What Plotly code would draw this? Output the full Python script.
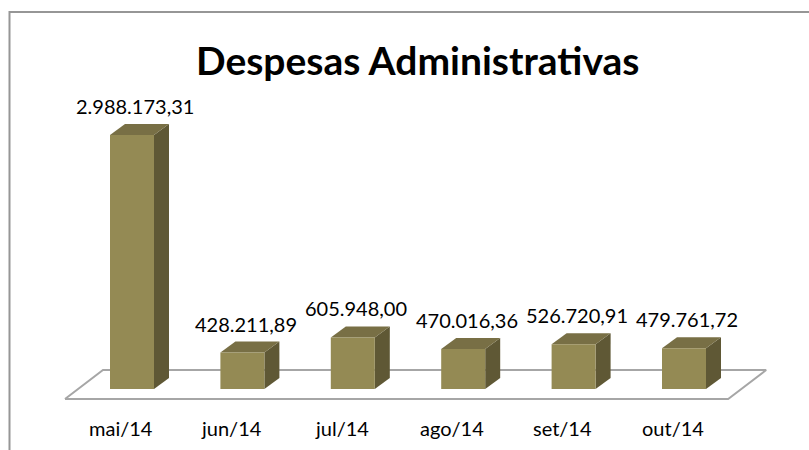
import plotly.graph_objects as go

# ---- data ----
categories = ["mai/14", "jun/14", "jul/14", "ago/14", "set/14", "out/14"]
values = [2988173.31, 428211.89, 605948.00, 470016.36, 526720.91, 479761.72]
value_labels = ["2.988.173,31", "428.211,89", "605.948,00", "470.016,36", "526.720,91", "479.761,72"]
title_text = "Despesas Administrativas"

# ---- geometry (pixel-based scale of the picture) ----
W, H = 809, 450
PX_X = 110.4               # pixels per category step
X_FIRST = 132.0            # pixel centre of first bar
UNITS_PER_PX = 2988173.31 / 254.0
ZERO_PX = 389.0            # pixel row of value 0

x0 = -X_FIRST / PX_X
x1 = x0 + W / PX_X
y0 = -(H - ZERO_PX) * UNITS_PER_PX
y1 = y0 + H * UNITS_PER_PX

HALF = 22 / PX_X           # half width of bar front face
DX = 15 / PX_X             # depth offset x
DY = 11 * UNITS_PER_PX     # depth offset y

FRONT = "#948A54"
TOP = "#786F45"
SIDE = "#5F5835"
GRID = "#A6A6A6"

fig = go.Figure()

# floor
n = len(categories)
f_front = -10 * UNITS_PER_PX
f_back = 19 * UNITS_PER_PX
fl_left = -0.607
fl_right = n - 1 + 0.4
fdx = 38 / PX_X
fig.add_trace(go.Scatter(
    x=[fl_left, fl_right, fl_right + fdx, fl_left + fdx, fl_left],
    y=[f_front, f_front, f_back, f_back, f_front],
    mode="lines", fill="toself", fillcolor="white",
    line=dict(color=GRID, width=2), hoverinfo="skip", showlegend=False))

for i, v in enumerate(values):
    xl, xr = i - HALF, i + HALF
    # side face
    fig.add_trace(go.Scatter(
        x=[xr, xr + DX, xr + DX, xr, xr], y=[0, DY, v + DY, v, 0],
        mode="lines", fill="toself", fillcolor=SIDE, line=dict(width=0, color=SIDE),
        hoverinfo="skip", showlegend=False))
    # top face
    fig.add_trace(go.Scatter(
        x=[xl, xl + DX, xr + DX, xr, xl], y=[v, v + DY, v + DY, v, v],
        mode="lines", fill="toself", fillcolor=TOP, line=dict(width=0, color=TOP),
        hoverinfo="skip", showlegend=False))
    # front face
    fig.add_trace(go.Scatter(
        x=[xl, xr, xr, xl, xl], y=[0, 0, v, v, 0],
        mode="lines", fill="toself", fillcolor=FRONT, line=dict(width=0, color=FRONT),
        hoverinfo="skip", showlegend=False))

annotations = []
for i, (v, lab) in enumerate(zip(values, value_labels)):
    annotations.append(dict(
        x=i + 0.03, y=v + DY + 18 * UNITS_PER_PX, xref="x", yref="y",
        text=lab, showarrow=False, xanchor="center", yanchor="middle",
        font=dict(family="Lato", size=20, color="black")))
for i, c in enumerate(categories):
    annotations.append(dict(
        x=i - 0.1, y=-(428 - ZERO_PX) * UNITS_PER_PX, xref="x", yref="y",
        text=c, showarrow=False, xanchor="center", yanchor="middle",
        font=dict(family="Lato", size=20, color="black")))
annotations.append(dict(
    x=417 / W, y=1 - 60 / H, xref="paper", yref="paper", text="<b>" + title_text + "</b>",
    showarrow=False, xanchor="center", yanchor="middle",
    font=dict(family="Lato", size=39, color="black")))

fig.update_layout(
    width=W, height=H,
    margin=dict(l=0, r=0, t=0, b=0),
    paper_bgcolor="white", plot_bgcolor="white",
    xaxis=dict(range=[x0, x1], visible=False, fixedrange=True),
    yaxis=dict(range=[y0, y1], visible=False, fixedrange=True),
    annotations=annotations,
    shapes=[dict(type="rect", xref="paper", yref="paper",
                 x0=9.5 / W, x1=1.05, y0=-0.05, y1=1 - 12 / H,
                 line=dict(color="#969696", width=2), fillcolor="rgba(0,0,0,0)")],
)

fig.write_html("out.html", config={"displayModeBar": False},
               post_script="document.body.style.margin='0';document.body.style.overflow='hidden';")
